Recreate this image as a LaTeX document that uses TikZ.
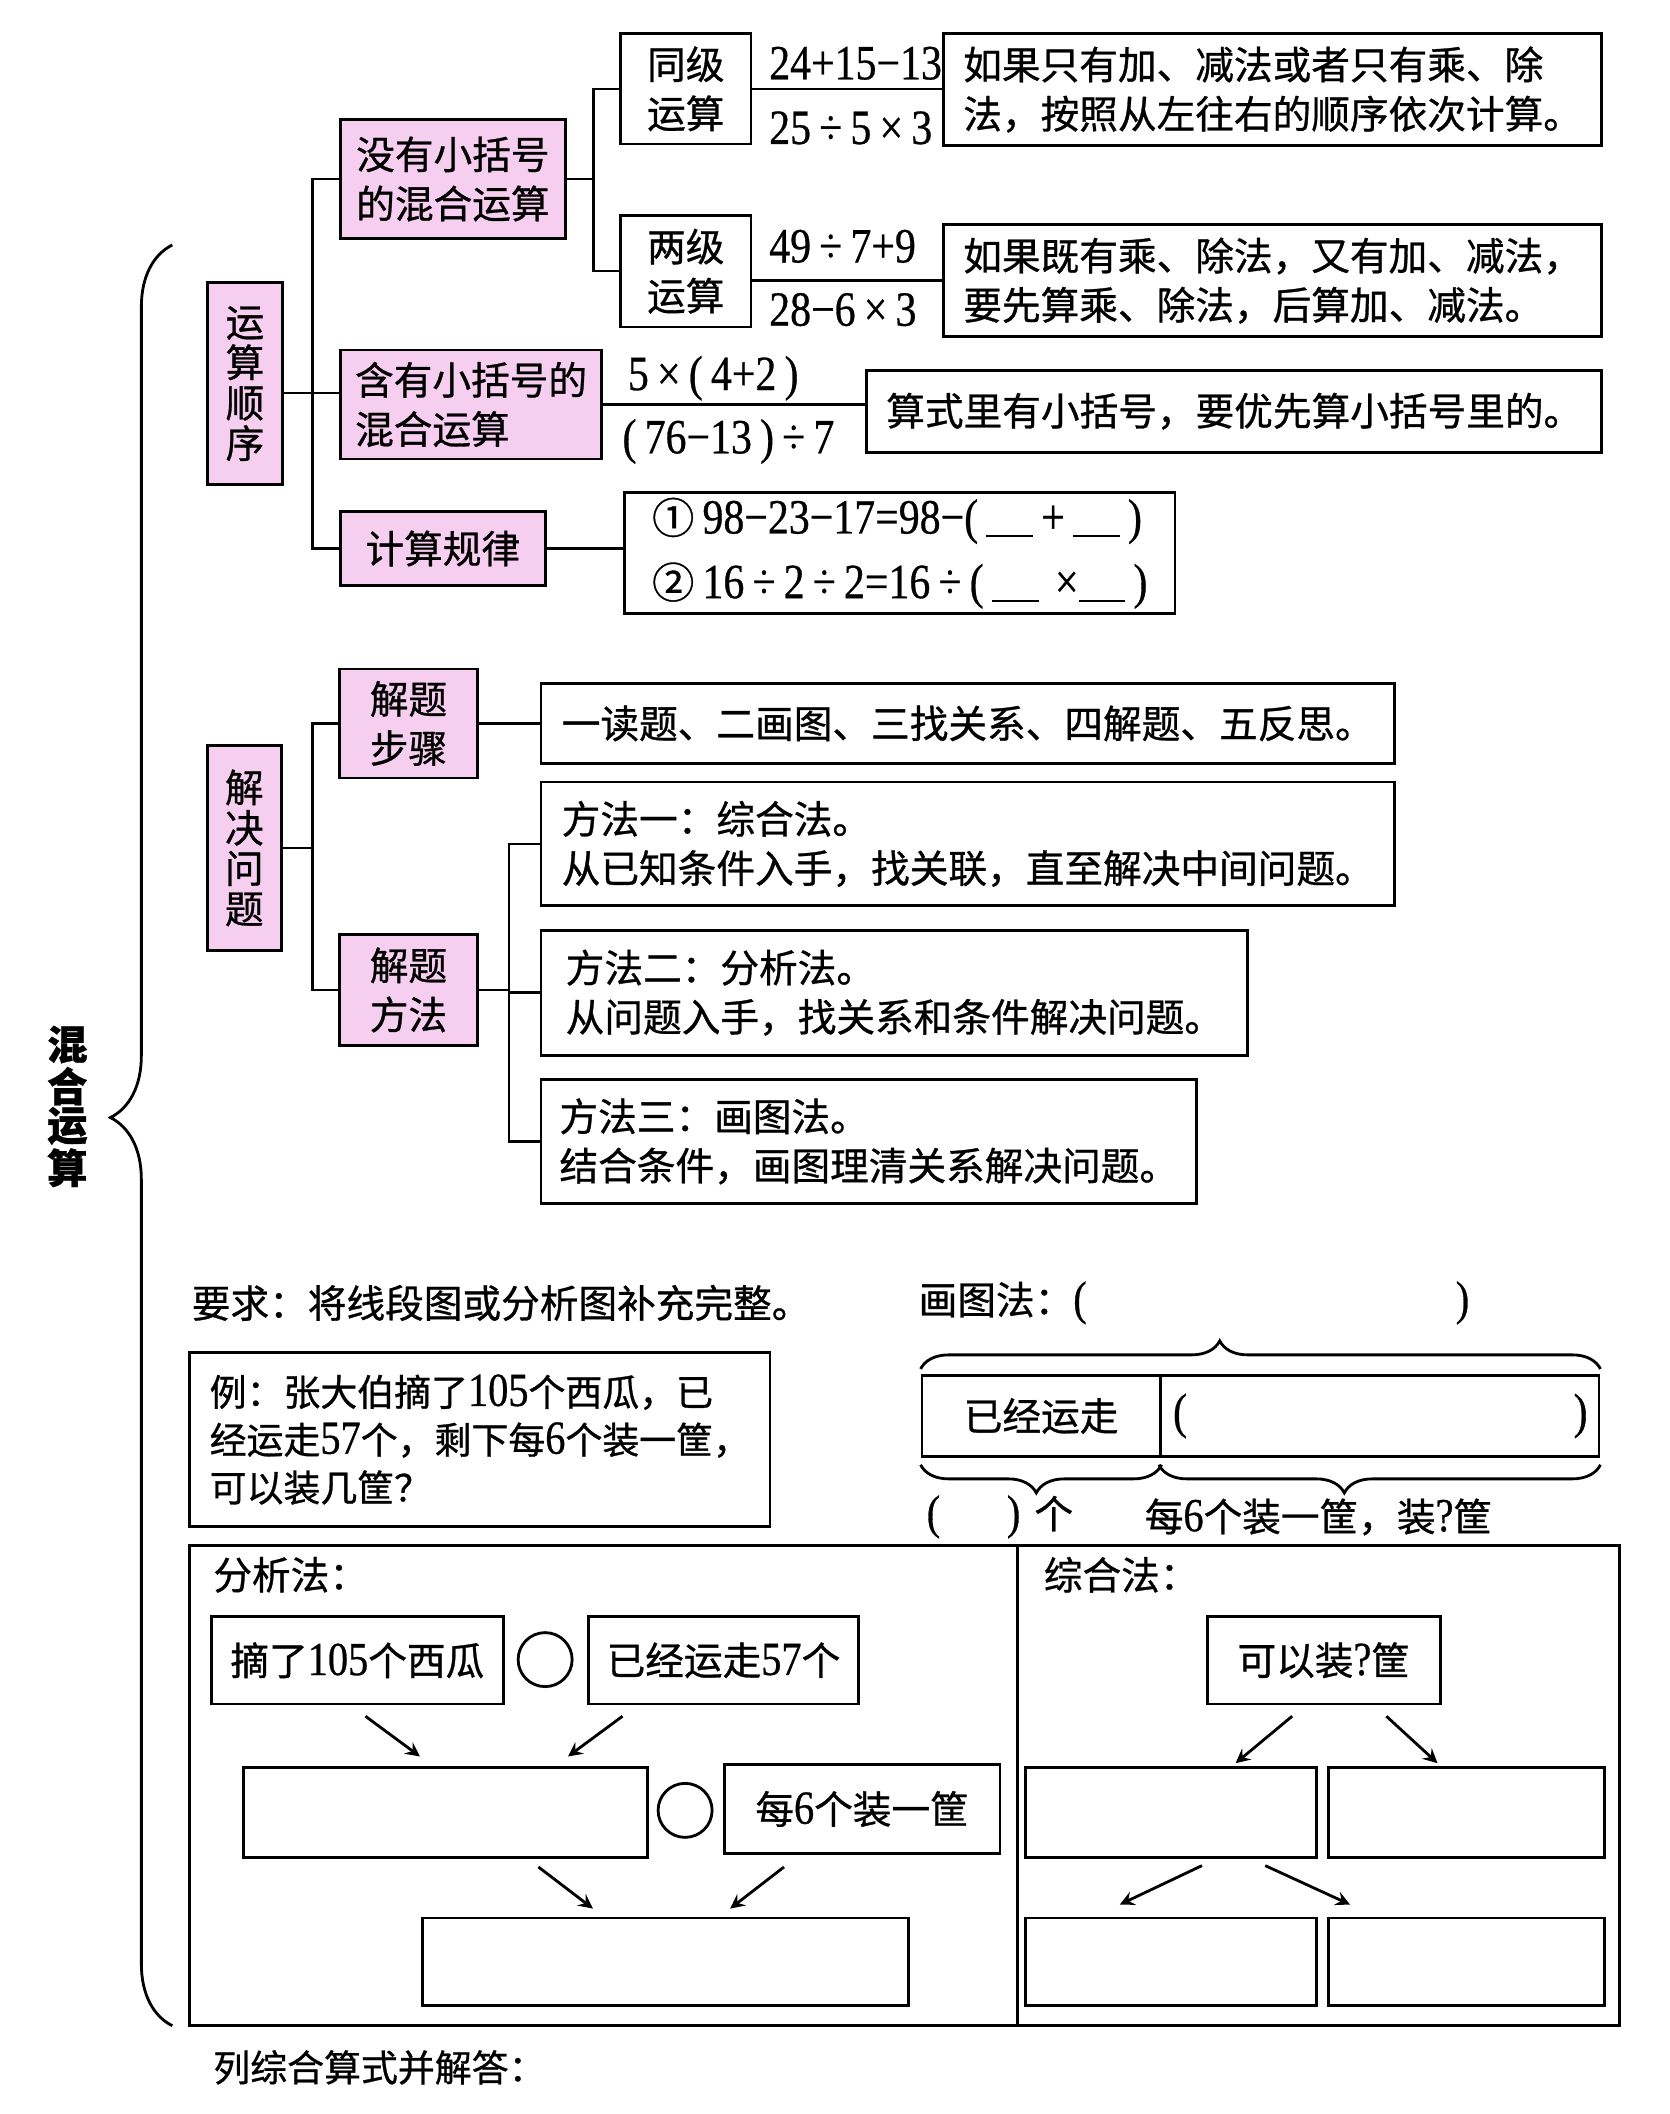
\documentclass[tikz,border=0pt]{standalone}
\usepackage{fontspec}
\setmainfont{Liberation Serif}
\newfontfamily\cjk[FakeBold=0.8]{Noto Sans CJK SC}
\newfontfamily\numfont[FakeStretch=0.85,FakeBold=0.6]{Liberation Serif}
\usetikzlibrary{calc,decorations.pathreplacing}
\definecolor{boxpink}{RGB}{246,207,240}
\newcommand{\numtxt}[1]{{\numfont\fontsize{13.5}{14}\selectfont #1}}
\newcommand{\fillblank}{\rule[-1pt]{0.95em}{0.6pt}}
\newcommand{\circnum}[1]{{\cjk\fontsize{12}{12}\selectfont #1}}

\tikzset{
  sz/.style 2 args={minimum width=#1*0.01346cm, minimum height=#2*0.01346cm},
  box/.style={draw, line width=0.8pt, inner sep=0pt, font=\cjk\fontsize{11}{14}\selectfont, align=left},
  pinkbox/.style={box, fill=boxpink},
  vbox/.style={pinkbox, align=center, font=\cjk\fontsize{11}{11.5}\selectfont},
  expr/.style={anchor=west, inner sep=0pt, font=\numfont\fontsize{14}{16}\selectfont},
  txt/.style={anchor=west, inner sep=0pt, font=\cjk\fontsize{11}{14}\selectfont},
  link/.style={line width=0.7pt},
  arr/.style={->, line width=0.8pt},
  brc/.style={decorate, line width=0.8pt},
  opcircle/.style={circle, draw, line width=0.8pt, minimum size=0.54cm, inner sep=0pt},
}

\begin{document}
\begin{tikzpicture}[x=0.01346cm, y=-0.01346cm, >=stealth]
  \fill[white] (0,0) rectangle (1240,1570.6);
  \useasboundingbox (0,0) rectangle (1240,1570.6);

  % TITLE AND BRACE
  \node[align=center, font=\cjk\bfseries\fontsize{11.5}{11}\selectfont] (title) at (50,822) {混\\合\\运\\算};
  \coordinate (bracebot) at (128,1505);
  \coordinate (bracetop) at (128,182);
  \draw[brc, decoration={brace, amplitude=17.6pt, aspect=0.51}] (bracebot) -- (bracetop);

  % ORDER OF OPERATIONS
  \node[vbox, sz={56}{150}] (order) at (182,285) {运\\算\\顺\\序};
  \node[pinkbox, sz={167}{88}] (nobrk) at (336.5,133) {没有小括号\\的混合运算};
  \node[pinkbox, sz={194}{81}] (hanyou) at (350,300.5) {含有小括号的\\混合运算};
  \node[pinkbox, sz={152}{55}] (guilv) at (329,407.5) {计算规律};

  \node[box, align=center, sz={97}{82}] (tongji) at (509.5,66) {同级\\运算};
  \node[box, align=center, sz={97}{83}] (liangji) at (509.5,201.5) {两级\\运算};
  \node[box, sz={489}{83}] (rule1) at (945.5,66.5) {如果只有加、减法或者只有乘、除\\法，按照从左往右的顺序依次计算。};
  \node[box, sz={489}{83}] (rule2) at (945.5,208.5) {如果既有乘、除法，又有加、减法，\\要先算乘、除法，后算加、减法。};
  \node[box, sz={546}{61}] (suanshi) at (917,305.5) {算式里有小括号，要优先算小括号里的。};
  \node[box, sz={409}{90}, font=\numfont\fontsize{14}{18.4}\selectfont] (law) at (668.5,411)
    {\circnum{①}\,98−23−17=98−(\,\fillblank\,+\,\fillblank\,)\\
     \circnum{②}\,16\,÷\,2\,÷\,2=16\,÷\,(\,\fillblank\,\,×\fillblank\,)};

  \node[expr] (e1) at (571,47) {24+15−13};
  \node[expr] (e2) at (571,95) {25\,÷\,5\,×\,3};
  \node[expr] (e3) at (571,183) {49\,÷\,7+9};
  \node[expr] (e4) at (571,230) {28−6\,×\,3};
  \node[expr] (e5) at (466,281) {5\,×\,(\,4+2\,)};
  \node[expr] (e6) at (462,328) {(\,76−13\,)\,÷\,7};

  % LINES:
  \coordinate (t1) at (232,0);
  \coordinate (t2) at (378,0);
  \coordinate (t3) at (441,0);
  \draw[link] (nobrk.west) -- (nobrk.west -| t1) |- (guilv.west);
  \draw[link] ($(order.east)+(0,7)$) -- ($(order.east -| hanyou.west)+(0,7)$);
  \draw[link] (nobrk.east) -- (nobrk.east -| t3);
  \draw[link] (tongji.west) -- (tongji.west -| t3) |- (liangji.west);
  \draw[link] (tongji.east) -- (tongji.east -| rule1.west);
  \draw[link] (liangji.east |- rule2.west) -- (rule2.west);
  \draw[link] (hanyou.east) -- (hanyou.east -| suanshi.west);
  \draw[link] (guilv.east) -- (guilv.east -| law.west);

  % SOLVING PROBLEMS
  \node[vbox, sz={55}{152}] (solve) at (181.5,630) {解\\决\\问\\题};
  \node[pinkbox, align=center, sz={103}{81}] (steps) at (303.5,537.5) {解题\\步骤};
  \node[pinkbox, align=center, sz={103}{83}] (methods) at (303.5,735.5) {解题\\方法};
  \node[box, sz={634}{59}] (stepstext) at (719,537.5) {一读题、二画图、三找关系、四解题、五反思。};
  \node[box, sz={634}{92}] (m1) at (719,627) {方法一：综合法。\\从已知条件入手，找关联，直至解决中间问题。};
  \node[box, sz={525}{93}] (m2) at (664.5,737.5) {方法二：分析法。\\从问题入手，找关系和条件解决问题。};
  \node[box, sz={487}{92}] (m3) at (645.5,848) {方法三：画图法。\\结合条件，画图理清关系解决问题。};

  \draw[link] (solve.east) -- (solve.east -| t1);
  \draw[link] (steps.west) -- (steps.west -| t1) |- (methods.west);
  \draw[link] (steps.east) -- (steps.east -| stepstext.west);
  \draw[link] (methods.east) -- (methods.east -| t2);
  \draw[link] (m1.west) -- (m1.west -| t2) |- (m3.west);
  \draw[link] (m2.west) -- (m2.west -| t2);

  % EXAMPLE
  \node[txt] (ask) at (142,968) {要求：将线段图或分析图补充完整。};
  \node[txt] (drawhead) at (682,968) {画图法：\numtxt{(}\hspace{105pt}\numtxt{)}};
  \node[box, sz={431}{129}, font=\cjk\fontsize{10.5}{13.6}\selectfont] (example) at (356.5,1069.5)
    {例：张大伯摘了\numtxt{105}个西瓜，已\\经运走\numtxt{57}个，剩下每\numtxt{6}个装一筐，\\可以装几筐？};

  % LINE SEGMENT DIAGRAM
  \node[box, sz={177}{60}] (gone) at (773.5,1052) {已经运走};
  \node[box, sz={326}{60}] (rest) at (1025,1052) {};
  \node[expr] (restl) at (871,1052) {(};
  \node[expr, anchor=east] (restr) at (1180,1052) {)};
  \draw[brc, decoration={brace, amplitude=8pt, aspect=0.44, raise=1.5pt}] (gone.north west) -- (rest.north east);
  \draw[brc, decoration={brace, amplitude=8pt, aspect=0.52, raise=2pt}] (gone.south east) -- (gone.south west);
  \draw[brc, decoration={brace, amplitude=8pt, aspect=0.58, raise=2pt}] (rest.south east) -- (rest.south west);
  \node[txt] (count) at (688,1127) {\numtxt{(}\hspace{19pt}\numtxt{)}\hspace{4pt}个};
  \node[txt] (pack) at (850,1127) {每\numtxt{6}个装一筐，装\numtxt{?}筐};

  % ANALYSIS AND SYNTHESIS
  \node[box, sz={615}{357}] (ana) at (448.5,1326.5) {};
  \node[box, sz={447}{357}] (syn) at (979.5,1326.5) {};
  \node[txt] (anahead) at (158,1170) {分析法：};
  \node[txt] (synhead) at (775,1170) {综合法：};

  \node[box, sz={217}{65}] (pick) at (265.5,1233.5) {摘了\numtxt{105}个西瓜};
  \node[opcircle] (op1) at (405,1233) {};
  \node[box, sz={201}{65}] (gone57) at (537.5,1233.5) {已经运走\numtxt{57}个};
  \node[box, sz={300}{67}] (left) at (331,1346.5) {};
  \node[opcircle] (op2) at (509,1345) {};
  \node[box, sz={205}{66}] (per6) at (640.5,1344) {每\numtxt{6}个装一筐};
  \node[box, sz={361}{65}] (res) at (494.5,1457.5) {};

  \draw[arr] ($(pick.south)+(6,8)$) -- ($(left.north)+(-19,-7)$);
  \draw[arr] ($(gone57.south)+(-75,8)$) -- ($(left.north)+(91,-7)$);
  \draw[arr] ($(left.south)+(69,6)$) -- ($(res.north)+(-54,-6)$);
  \draw[arr] ($(per6.south)+(-58,9)$) -- ($(res.north)+(48,-6)$);

  \node[box, sz={173}{65}] (baskets) at (983.5,1233.5) {可以装\numtxt{?}筐};
  \node[box, sz={216}{67}] (s1) at (870,1346.5) {};
  \node[box, sz={205}{67}] (s2) at (1089.5,1346.5) {};
  \node[box, sz={216}{65}] (s3) at (870,1457.5) {};
  \node[box, sz={205}{65}] (s4) at (1089.5,1457.5) {};

  \draw[arr] ($(baskets.south)+(-23.5,8)$) -- ($(s1.north)+(48,-2)$);
  \draw[arr] ($(baskets.south)+(46.5,8)$) -- ($(s2.north)+(-21.5,-2)$);
  \draw[arr] ($(s1.south)+(23,5)$) -- ($(s3.north)+(-38,-9)$);
  \draw[arr] ($(s1.south)+(70,5)$) -- ($(s4.north)+(-86.5,-9)$);

  \node[txt, font=\cjk\fontsize{10.5}{14}\selectfont] (answer) at (158,1536) {列综合算式并解答：};
\end{tikzpicture}
\end{document}
